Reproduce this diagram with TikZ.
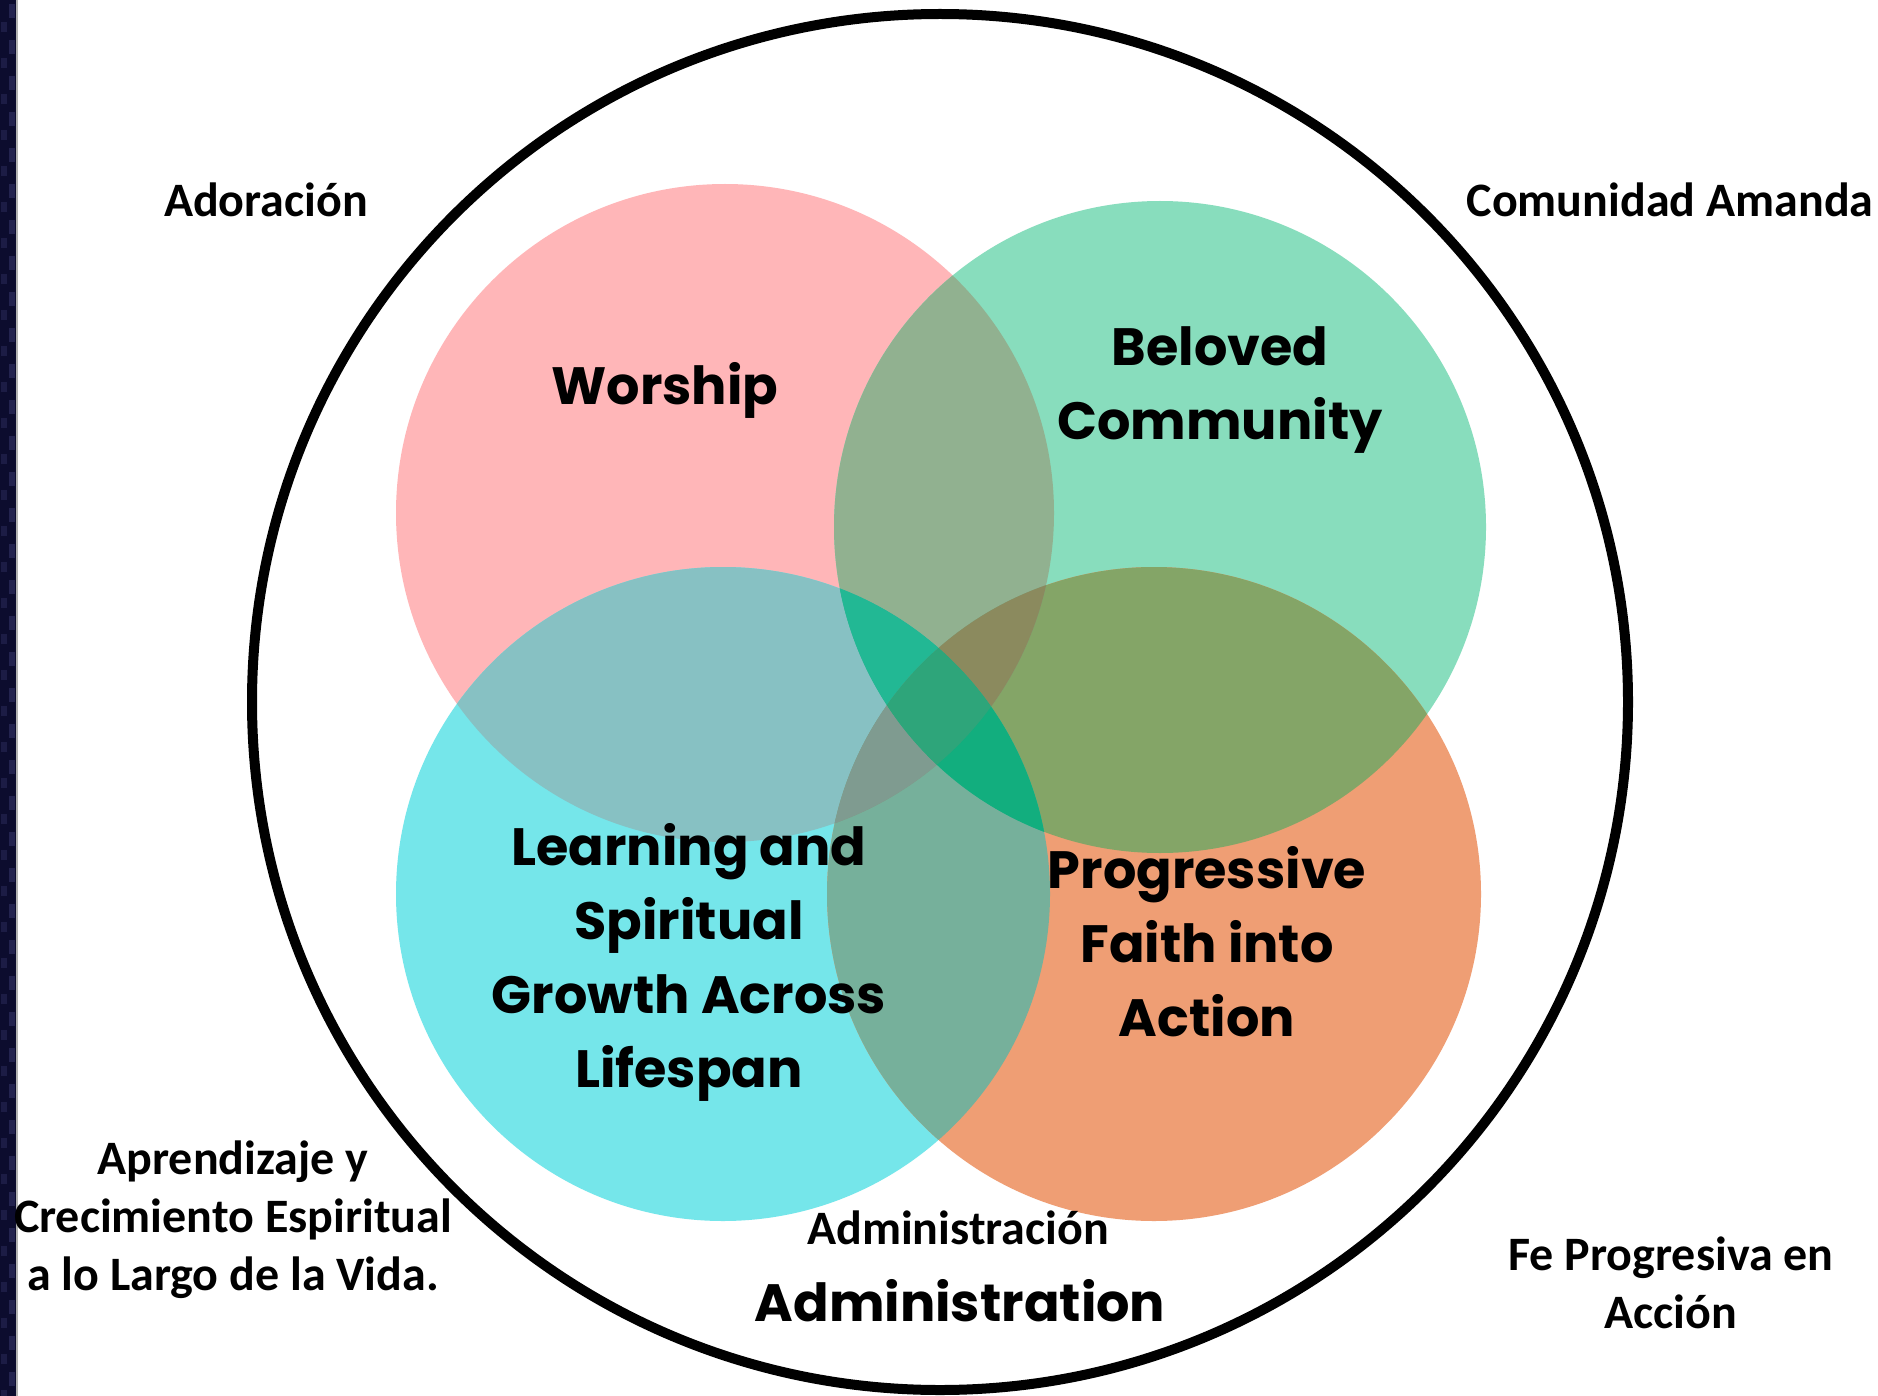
\documentclass[tikz,border=0pt]{standalone}
\usepackage{fontspec}
\newfontfamily\calib{Carlito}
\newfontfamily\geo{Poppins}
\definecolor{cW}{HTML}{FFB6B8}
\definecolor{cC}{HTML}{88DDBD}
\definecolor{cL}{HTML}{75E6EA}
\definecolor{cP}{HTML}{EF9E74}
\definecolor{cWC}{HTML}{91B190}
\definecolor{cWL}{HTML}{87C1C3}
\definecolor{cCP}{HTML}{84A567}
\definecolor{cLP}{HTML}{76B09B}
\definecolor{cWP}{HTML}{7F9B80}
\definecolor{cCL}{HTML}{2AB08A}
\definecolor{cWCL}{HTML}{22B894}
\definecolor{cWCP}{HTML}{8B8A5E}
\definecolor{cWLP}{HTML}{7F9B90}
\definecolor{cCLP}{HTML}{12AE7E}
\definecolor{cAll}{HTML}{2EA57A}
\definecolor{navy}{HTML}{0C0C2E}
\definecolor{navyb}{HTML}{23234F}
\tikzset{
  es/.style={font=\calib\bfseries\fontsize{48}{58}\selectfont, align=center, inner sep=0pt},
  en/.style={font=\geo\bfseries\fontsize{52.5}{74}\selectfont, align=center, inner sep=0pt},
}
\begin{document}
\begin{tikzpicture}[x=1pt,y=-1pt]
\fill[white] (0,0) rectangle (1878,1396);
\useasboundingbox (0,0) rectangle (1878,1396);
% left strip
\fill[navy] (0,0) rectangle (16,1396);
\foreach \j in {0,...,38}{
  \fill[navyb] (9,{\j*36+4}) rectangle (15,{\j*36+18});
  \fill[navyb!70!navy] (1,{\j*36+22}) rectangle (7,{\j*36+32});
}
\fill[gray!60] (16,0) rectangle (18,1396);
% circle geometry
\def\W{(725,513) circle[radius=329pt]}
\def\C{(1160,527) circle[radius=326pt]}
\def\L{(723,894) circle[radius=327pt]}
\def\P{(1154,894) circle[radius=327pt]}
% singles
\fill[cW] \W;
\fill[cC] \C;
\fill[cL] \L;
\fill[cP] \P;
% pairs
\begin{scope}\clip \W; \fill[cWC] \C; \end{scope}
\begin{scope}\clip \W; \fill[cWL] \L; \end{scope}
\begin{scope}\clip \C; \fill[cCP] \P; \end{scope}
\begin{scope}\clip \L; \fill[cLP] \P; \end{scope}
\begin{scope}\clip \W; \fill[cWP] \P; \end{scope}
\begin{scope}\clip \C; \fill[cCL] \L; \end{scope}
% triples
\begin{scope}\clip \W; \clip \C; \fill[cWCL] \L; \end{scope}
\begin{scope}\clip \W; \clip \C; \fill[cWCP] \P; \end{scope}
\begin{scope}\clip \W; \clip \L; \fill[cWLP] \P; \end{scope}
\begin{scope}\clip \C; \clip \L; \fill[cCLP] \P; \end{scope}
% all four
\begin{scope}\clip \W; \clip \C; \clip \L; \fill[cAll] \P; \end{scope}
% outer circle
\draw[line width=10pt] (940,702) circle[radius=688pt];
% English labels
\node[en] (worship) at (665,390) {Worship};
\node[en] (beloved) at (1220,390) {Beloved\\Community};
\node[en] (learning) at (689,962) {Learning and\\Spiritual\\Growth Across\\Lifespan};
\node[en] (progressive) at (1207,942) {Progressive\\Faith into\\Action};
\node[en] (admin) at (960,1301) {Administration};
% Spanish labels
\node[es] (adoracion) at (266,200) {Adoración};
\node[es] (comunidad) at (1670,200) {Comunidad Amanda};
\node[es] (aprendizaje) at (233,1220) {Aprendizaje y\\Crecimiento Espiritual\\a lo Largo de la Vida.};
\node[es] (administracion) at (958,1228) {Administración};
\node[es] (fe) at (1671,1283) {Fe Progresiva en\\Acción};
\end{tikzpicture}
\end{document}
